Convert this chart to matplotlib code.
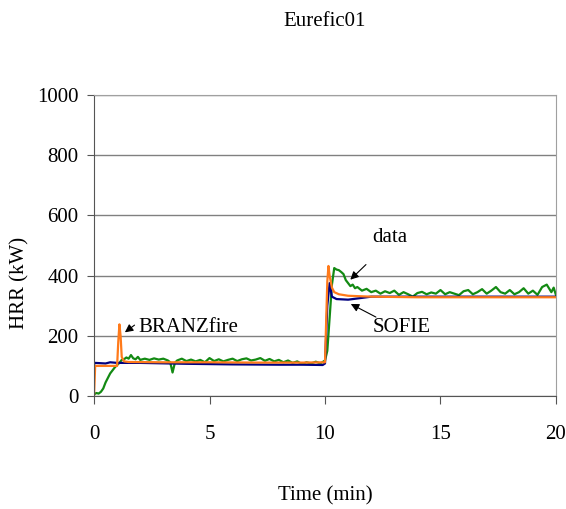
import matplotlib.pyplot as plt

# data
green_t = [0.0, 0.1, 0.2, 0.3, 0.4, 0.5, 0.6, 0.7, 0.8, 0.9, 1.0, 1.1, 1.2, 1.3, 1.4, 1.5,
           1.6, 1.7, 1.8, 1.9, 2.0, 2.2, 2.4, 2.6, 2.8, 3.0, 3.2, 3.3, 3.4, 3.5, 3.6, 3.8,
           4.0, 4.2, 4.4, 4.6, 4.8, 5.0, 5.2, 5.4, 5.6, 5.8, 6.0, 6.2, 6.4, 6.6, 6.8, 7.0,
           7.2, 7.4, 7.6, 7.8, 8.0, 8.2, 8.4, 8.6, 8.8, 9.0, 9.2, 9.4, 9.6, 9.8, 10.0, 10.1,
           10.2, 10.3, 10.4, 10.5, 10.6, 10.7, 10.8, 10.9, 11.0, 11.1, 11.2, 11.3, 11.4, 11.6,
           11.8, 12.0, 12.2, 12.4, 12.6, 12.8, 13.0, 13.2, 13.4, 13.6, 13.8, 14.0, 14.2, 14.4,
           14.6, 14.8, 15.0, 15.2, 15.4, 15.6, 15.8, 16.0, 16.2, 16.4, 16.6, 16.8, 17.0, 17.2,
           17.4, 17.6, 17.8, 18.0, 18.2, 18.4, 18.6, 18.8, 19.0, 19.2, 19.4, 19.6, 19.8, 19.9,
           20.0]
green_v = [5, 10, 8, 14, 25, 45, 60, 75, 85, 95, 103, 110, 120, 122, 128, 124,
           136, 125, 122, 130, 120, 124, 120, 125, 121, 124, 118, 112, 78, 110, 118, 124,
           116, 121, 115, 120, 112, 126, 116, 122, 115, 120, 124, 116, 122, 125, 118, 121,
           126, 117, 123, 115, 120, 112, 118, 110, 115, 106, 112, 108, 114, 108, 118, 150,
           260, 370, 425, 420, 418, 412, 405, 385, 375, 365, 370, 358, 362, 350,
           356, 345, 350, 340, 348, 342, 350, 336, 345, 338, 330, 342, 346, 338,
           344, 340, 352, 338, 345, 340, 335, 348, 352, 338, 345, 355, 340, 350,
           362, 345, 340, 352, 338, 345, 358, 340, 350, 336, 362, 370, 345, 360,
           335]

branz_t = [0, 0.05, 1.0, 1.05, 1.1, 1.15, 1.2, 1.3, 1.5, 3, 5, 7, 9, 10.0, 10.1, 10.15,
           10.2, 10.3, 10.4, 10.6, 11, 12, 14, 20]
branz_v = [0, 100, 100, 180, 238, 200, 130, 115, 113, 112, 112, 111, 111, 112, 380, 432,
           400, 360, 345, 338, 333, 330, 328, 328]

sofie_t = [0, 0.05, 0.5, 0.7, 1.0, 2, 4, 6, 8, 9, 9.9, 10.0, 10.1, 10.2, 10.3, 10.5, 11,
           11.5, 12, 12.5, 20]
sofie_v = [105, 110, 108, 112, 110, 110, 107, 105, 104, 104, 103, 108, 300, 375, 330, 322,
           320, 325, 330, 330, 330]

xticks = [0, 5, 10, 15, 20]
yticks = [0, 200, 400, 600, 800, 1000]

plt.rcParams['font.family'] = ['Liberation Serif', 'DejaVu Serif']

fig = plt.figure(figsize=(5.66, 5.09), dpi=100)
ax = fig.add_axes([0.1661, 0.222, 0.8162, 0.5914])

ax.plot(green_t, green_v, color='#138a13', lw=1.6)
ax.plot(sofie_t, sofie_v, color='#000080', lw=1.6)
ax.plot(branz_t, branz_v, color='#ff7a1a', lw=1.6)

ax.set_xlim(0, 20)
ax.set_ylim(0, 1000)
ax.set_xticks(xticks)
ax.set_yticks(yticks)
ax.yaxis.grid(True, color='#808080', lw=1)
ax.set_axisbelow(True)
for s in ['top', 'right']:
    ax.spines[s].set_color('#a0a0a0')
for s in ['left', 'bottom']:
    ax.spines[s].set_color('#555555')
ax.tick_params(axis='x', direction='out', length=6, pad=15, labelsize=15, color='#555555')
ax.tick_params(axis='y', direction='out', length=5, pad=6, labelsize=15, color='#555555')

ax.set_title('Eurefic01', fontsize=15, pad=50)
ax.set_xlabel('Time (min)', fontsize=15, labelpad=30)
ax.set_ylabel('HRR (kW)', fontsize=15)
ax.yaxis.set_label_coords(-0.14, 0.375)

arrow = dict(arrowstyle='-|>', color='black', lw=0.8, mutation_scale=12)
ax.annotate('', xy=(11.01, 380), xytext=(11.86, 443), arrowprops=arrow)
ax.text(12.8, 525, 'data', fontsize=15, ha='center', va='center')
ax.annotate('', xy=(11.01, 310), xytext=(12.31, 258), arrowprops=arrow)
ax.text(13.3, 226, 'SOFIE', fontsize=15, ha='center', va='center')
ax.annotate('', xy=(1.24, 206), xytext=(1.85, 241), arrowprops=arrow)
ax.text(1.9, 226, 'BRANZfire', fontsize=15, ha='left', va='center')

fig.savefig('out.png', dpi=100)
